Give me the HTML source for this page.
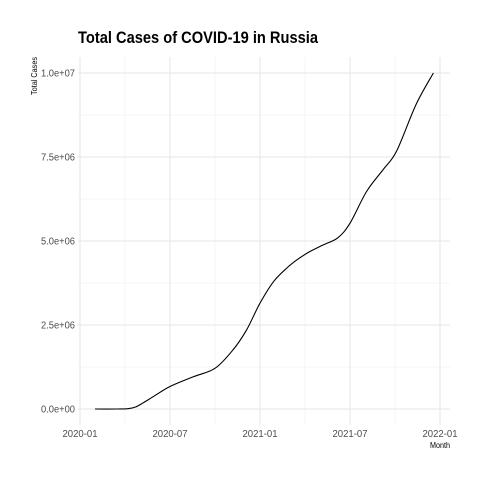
<!DOCTYPE html>
<html><head><meta charset="utf-8"><style>
html,body{margin:0;padding:0;background:#fff}
svg{display:block;font-family:"Liberation Sans",sans-serif}
</style></head><body>
<svg id="chart" width="480" height="480">
<rect width="480" height="480" fill="#fff"/>
<g id="grid"></g>
<g id="series"></g>
<g id="axes"></g>
<text x="78" y="43" font-size="17" font-weight="bold" textLength="240" lengthAdjust="spacingAndGlyphs">Total Cases of COVID-19 in Russia</text>
<text transform="translate(37,76) rotate(-90)" text-anchor="middle" font-size="8" textLength="38" lengthAdjust="spacingAndGlyphs" fill="#000">Total Cases</text>
<text x="450" y="448" text-anchor="end" font-size="8" textLength="20" lengthAdjust="spacingAndGlyphs">Month</text>
</svg>
<script>
// months since 2020-01
const months = [1.0,2.5,3.2,3.7,4.2,4.89,6.0,7.56,9.0,10.2,11.1,12.0,12.9,13.8,14.5,15.3,16.2,17.2,18.0,19.1,20.2,21.1,22.4,23.56];
const cases = [0,0,0.01e6,0.06e6,0.18e6,0.37e6,0.67e6,0.96e6,1.21e6,1.76e6,2.35e6,3.15e6,3.79e6,4.2e6,4.45e6,4.68e6,4.88e6,5.1e6,5.53e6,6.47e6,7.12e6,7.67e6,9.06e6,10.0e6];
const yTicks = [0,2.5e6,5e6,7.5e6,1e7];
const yTickLabels = ["0.0e+00","2.5e+06","5.0e+06","7.5e+06","1.0e+07"];
const xTicks = [0,6,12,18,24];
const xTickLabels = ["2020-01","2020-07","2021-01","2021-07","2022-01"];

const NS="http://www.w3.org/2000/svg";
const X = m => 80 + m*15;
const Y = v => 409 - v/1e7*336;
const L = {x0:78,x1:450,y0:57,y1:425};
function mk(tag, attrs, parent){const e=document.createElementNS(NS,tag);for(const k in attrs)e.setAttribute(k,attrs[k]);parent.appendChild(e);return e;}
const grid=document.getElementById('grid'), axes=document.getElementById('axes'), series=document.getElementById('series');
for(let i=0;i<yTicks.length-1;i++){
  const v=(yTicks[i]+yTicks[i+1])/2;
  const g=mk('line',{x1:L.x0,x2:L.x1,y1:Y(v),y2:Y(v),stroke:'#ebebeb','stroke-width':0.5},grid);
  
  
}
for(let i=0;i<xTicks.length-1;i++){
  const m=(xTicks[i]+xTicks[i+1])/2;
  const g=mk('line',{x1:X(m),x2:X(m),y1:L.y0,y2:L.y1,stroke:'#ebebeb','stroke-width':0.5},grid);
  
  
}
yTicks.forEach((v,i)=>{
  const g=mk('line',{x1:L.x0,x2:L.x1,y1:Y(v),y2:Y(v),stroke:'#e6e6e6','stroke-width':1},grid);
  
  
  const t=mk('text',{x:75,y:Y(v)+3.5,'text-anchor':'end','font-size':10,fill:'#4d4d4d',textLength:34,lengthAdjust:'spacingAndGlyphs'},axes);
  t.textContent=yTickLabels[i];
  
  
});
xTicks.forEach((m,i)=>{
  const g=mk('line',{x1:X(m),x2:X(m),y1:L.y0,y2:L.y1,stroke:'#e6e6e6','stroke-width':1},grid);
  
  
  const t=mk('text',{x:X(m),y:437,'text-anchor':'middle','font-size':10,fill:'#4d4d4d',textLength:35,lengthAdjust:'spacingAndGlyphs'},axes);
  t.textContent=xTickLabels[i];
  
  
});
const pts=months.map((m,i)=>[X(m),Y(cases[i])]);
let d=`M${pts[0][0]},${pts[0][1]}`;
for(let i=0;i<pts.length-1;i++){
  const p0=pts[Math.max(0,i-1)],p1=pts[i],p2=pts[i+1],p3=pts[Math.min(pts.length-1,i+2)];
  d+=` C${p1[0]+(p2[0]-p0[0])/6},${p1[1]+(p2[1]-p0[1])/6} ${p2[0]-(p3[0]-p1[0])/6},${p2[1]-(p3[1]-p1[1])/6} ${p2[0]},${p2[1]}`;
}
const line=mk('path',{d:d,fill:'none',stroke:'#000','stroke-width':1.1},series);


</script>
</body></html>
